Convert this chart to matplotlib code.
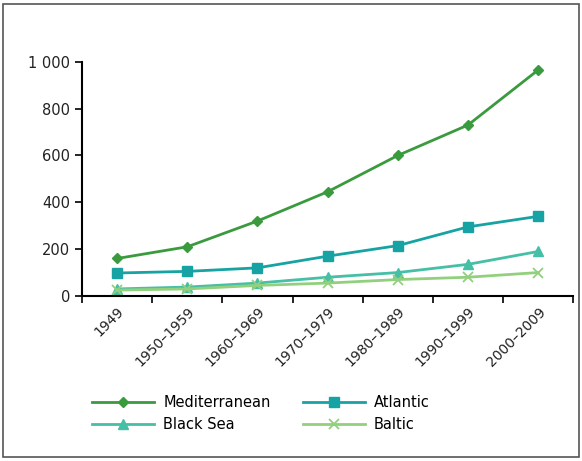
import matplotlib.pyplot as plt
import numpy as np
from matplotlib.patches import Rectangle

periods = ['1949', '1950\u20131959', '1960\u20131969', '1970\u20131979',
           '1980\u20131989', '1990\u20131999', '2000\u20132009']
mediterranean = [160, 210, 320, 445, 600, 730, 965]
atlantic = [98, 105, 120, 170, 215, 295, 340]
black_sea = [30, 38, 55, 80, 100, 135, 190]
baltic = [25, 30, 45, 55, 70, 80, 100]

fig = plt.figure(figsize=(5.82, 4.61), dpi=100)
fig.patches.append(Rectangle((0.006, 0.008), 0.988, 0.984, transform=fig.transFigure,
                             fill=False, edgecolor='#555555', linewidth=1.2))
ax = fig.add_axes([0.141, 0.358, 0.844, 0.508])

x = np.arange(len(periods)) + 0.5
ax.plot(x, mediterranean, color='#3a9a3e', marker='D', markersize=5, lw=2, label='Mediterranean')
ax.plot(x, atlantic, color='#17a3a3', marker='s', markersize=7, lw=2, label='Atlantic')
ax.plot(x, black_sea, color='#45bfa5', marker='^', markersize=7, lw=2, label='Black Sea')
ax.plot(x, baltic, color='#92d07e', marker='x', markersize=7, mew=1.3, lw=2, label='Baltic')

ax.set_xlim(0, len(periods))
ax.set_ylim(0, 1000)
ax.set_yticks([0, 200, 400, 600, 800, 1000])
ax.set_yticklabels(['0', '200', '400', '600', '800', '1 000'], fontsize=10.5, color='#222222')
ax.set_xticks(np.arange(len(periods) + 1))
ax.set_xticklabels([])
ax.set_xticks(x, minor=True)
ax.set_xticklabels(periods, minor=True, rotation=45, ha='right', rotation_mode='anchor',
                   fontsize=10, color='#222222')
ax.tick_params(axis='x', which='minor', length=0, pad=6)
ax.tick_params(axis='both', which='major', length=5, width=1.2)
ax.spines['top'].set_visible(False)
ax.spines['right'].set_visible(False)
ax.spines['left'].set_linewidth(1.5)
ax.spines['bottom'].set_linewidth(1.5)

fig.legend(loc='lower left', bbox_to_anchor=(0.135, 0.035), ncol=2, frameon=False,
           fontsize=10.5, handlelength=4.3, handletextpad=0.6, columnspacing=2.2,
           labelspacing=0.45,
           handles=[ax.lines[0], ax.lines[2], ax.lines[1], ax.lines[3]])

fig.savefig('out.png', dpi=100)
